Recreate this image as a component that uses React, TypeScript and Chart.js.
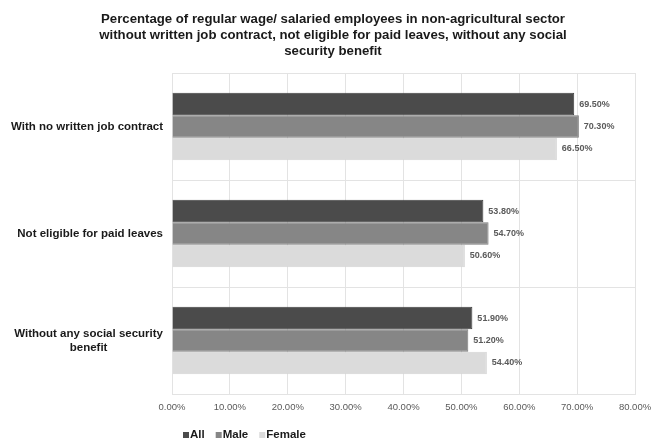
import React, { useEffect, useRef } from 'react';
import { Chart, registerables } from 'chart.js';

Chart.register(...registerables);

const titleLines = [
  'Percentage of regular wage/ salaried employees in non-agricultural sector',
  'without written job contract, not eligible for paid leaves, without any social',
  'security benefit',
];
const categories: (string | string[])[] = [
  'With no written job contract',
  'Not eligible for paid leaves',
  ['Without any social security', 'benefit'],
];
const seriesNames = ['All', 'Male', 'Female'];
const allValues = [69.5, 53.8, 51.9];
const maleValues = [70.3, 54.7, 51.2];
const femaleValues = [66.5, 50.6, 54.4];
const xMin = 0;
const xMax = 80;
const xStep = 10;

const FONT = '"Liberation Sans", Arial, sans-serif';
const fills = ['#4b4b4b', '#868686', '#dbdbdb'];
const borders = ['#3f3f3f', '#7a7a7a', '#d3d3d3'];

const titlePlugin = {
  id: 'customTitle',
  afterDraw(chart: any) {
    const ctx = chart.ctx;
    ctx.save();
    ctx.font = `bold 13.2px ${FONT}`;
    ctx.fillStyle = '#1a1a1a';
    ctx.textAlign = 'center';
    ctx.textBaseline = 'middle';
    const ys = [19, 35, 51];
    titleLines.forEach((t, i) => ctx.fillText(t, 333, ys[i]));
    ctx.restore();
  },
};

const yLabelPlugin = {
  id: 'yLabels',
  afterDraw(chart: any) {
    const ctx = chart.ctx;
    const yScale = chart.scales.y;
    ctx.save();
    ctx.font = `bold 11.5px ${FONT}`;
    ctx.fillStyle = '#1a1a1a';
    ctx.textAlign = 'center';
    ctx.textBaseline = 'middle';
    const right = 163;
    const lh = 14;
    (chart.data.labels as any[]).forEach((lab: any, i: number) => {
      const lines: string[] = Array.isArray(lab) ? lab : [lab];
      const w = Math.max(...lines.map((l) => ctx.measureText(l).width));
      const cx = right - w / 2;
      const cy = yScale.getPixelForTick(i);
      const y0 = cy - ((lines.length - 1) * lh) / 2;
      lines.forEach((l, j) => ctx.fillText(l, cx, y0 + j * lh));
    });
    ctx.restore();
  },
};

const valueLabelPlugin = {
  id: 'valueLabels',
  afterDatasetsDraw(chart: any) {
    const ctx = chart.ctx;
    ctx.save();
    ctx.font = `bold 9px ${FONT}`;
    ctx.fillStyle = '#5a5a5a';
    ctx.textAlign = 'left';
    ctx.textBaseline = 'middle';
    chart.data.datasets.forEach((ds: any, di: number) => {
      const meta = chart.getDatasetMeta(di);
      meta.data.forEach((bar: any, i: number) => {
        const v = ds.data[i] as number;
        ctx.fillText(v.toFixed(2) + '%', bar.x + 5, bar.y);
      });
    });
    ctx.restore();
  },
};

const legendPlugin = {
  id: 'customLegend',
  afterDraw(chart: any) {
    const ctx = chart.ctx;
    ctx.save();
    ctx.font = `bold 11.5px ${FONT}`;
    ctx.textBaseline = 'middle';
    ctx.textAlign = 'left';
    let x = 183;
    const y = 435;
    chart.data.datasets.forEach((ds: any) => {
      ctx.fillStyle = ds.backgroundColor;
      ctx.fillRect(x, y - 3, 6, 6);
      x += 7;
      ctx.fillStyle = '#1a1a1a';
      ctx.fillText(ds.label, x, y);
      x += ctx.measureText(ds.label).width + 11;
    });
    ctx.restore();
  },
};

export default function App() {
  const ref = useRef<HTMLCanvasElement>(null);
  useEffect(() => {
    if (!ref.current) return;
    const seriesValues = [allValues, maleValues, femaleValues];
    const chart = new Chart(ref.current, {
      type: 'bar',
      data: {
        labels: categories as any,
        datasets: seriesNames.map((name, i) => ({
          label: name,
          data: seriesValues[i],
          backgroundColor: fills[i],
          borderColor: borders[i],
          borderWidth: 1,
          barPercentage: 1.0,
          categoryPercentage: 0.63,
        })),
      },
      options: {
        indexAxis: 'y',
        responsive: false,
        animation: false,
        layout: { padding: { top: 73, right: 18, bottom: 0, left: 0 } },
        plugins: {
          legend: { display: false },
          title: { display: false },
          tooltip: { enabled: false },
        },
        scales: {
          x: {
            min: xMin,
            max: xMax,
            ticks: {
              stepSize: xStep,
              callback: (v: any) => Number(v).toFixed(2) + '%',
              color: '#5a5a5a',
              font: { family: FONT, size: 9.5 },
              padding: 8,
              maxRotation: 0,
            },
            grid: { color: '#e3e3e3', drawTicks: false },
            border: { color: '#e3e3e3' },
            afterFit: (s: any) => {
              s.height = 47;
              s.paddingLeft = 0;
              s.paddingRight = 0;
            },
          },
          y: {
            ticks: {
              display: false,
            },
            grid: { color: '#e3e3e3', drawTicks: false, offset: true },
            border: { color: '#e3e3e3' },
            afterFit: (s: any) => {
              s.width = 172;
              s.paddingTop = 0;
              s.paddingBottom = 0;
            },
          },
        },
      },
      plugins: [titlePlugin, yLabelPlugin, valueLabelPlugin, legendPlugin],
    } as any);
    return () => chart.destroy();
  }, []);
  return (
    <div style={{ position: 'absolute', left: 0, top: 0, width: 653, height: 441, background: '#fff' }}>
      <canvas ref={ref} width={653} height={441} />
    </div>
  );
}
